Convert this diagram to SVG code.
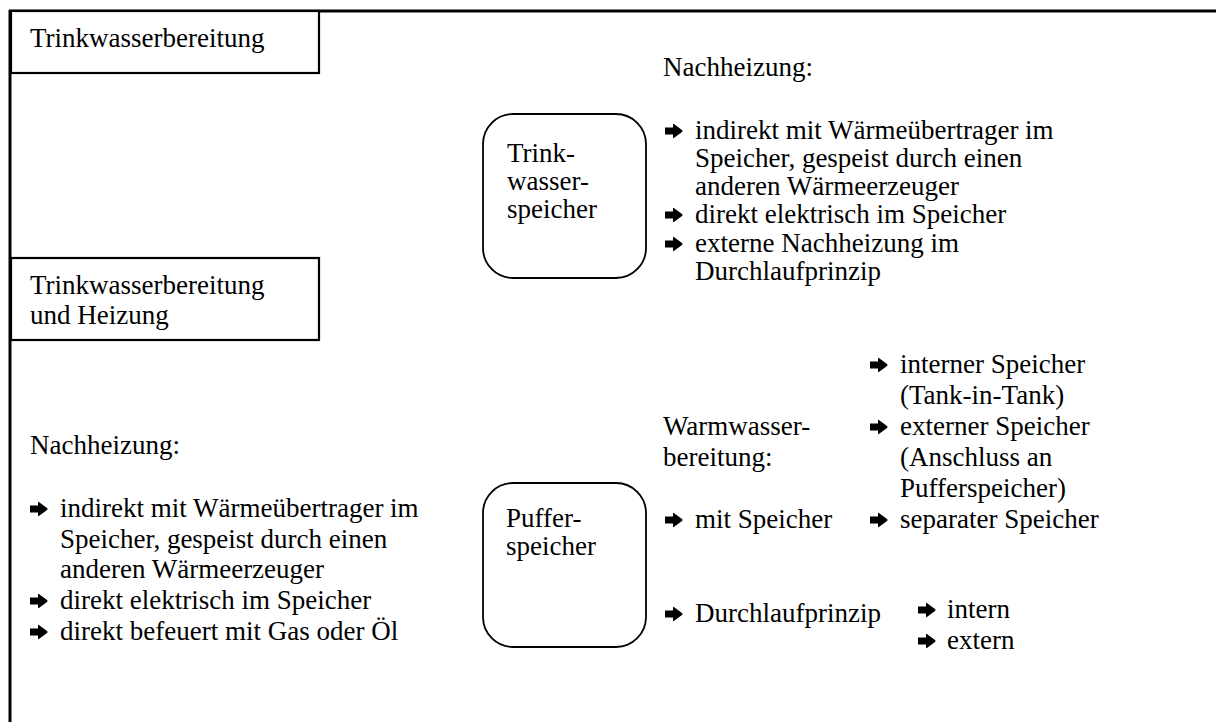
<svg xmlns="http://www.w3.org/2000/svg" xmlns:xlink="http://www.w3.org/1999/xlink" width="1216" height="722" viewBox="0 0 1216 722">
<style>
text{font-family:"Liberation Serif","Times New Roman","DejaVu Serif",serif;font-size:27px;fill:#000}
.frame{stroke:#000;stroke-width:3;fill:none}
.box{stroke:#000;stroke-width:2.2;fill:#fff}
.rbox{stroke:#000;stroke-width:1.8;fill:#fff}
</style>
<defs>
<path id="ar" d="M0,-3.6 L8,-3.6 L8,-6.6 Q8,-7.6 9.2,-6.8 L17,-1 Q18.2,0 17,1 L9.2,6.8 Q8,7.6 8,6.6 L8,3.6 L0,3.6 Z" fill="#000"/>
</defs>
<rect width="1216" height="722" fill="#fff"/>
<g id="frame">
<line class="frame" x1="9" y1="11" x2="1216" y2="11"/>
<line class="frame" x1="10" y1="10" x2="10" y2="722"/>
</g>
<g id="box-trinkwasserbereitung">
<rect class="box" x="11" y="11" width="308" height="62"/>
<text x="30" y="47">Trinkwasserbereitung</text>
</g>
<g id="box-trinkwasser-heizung">
<rect class="box" x="11" y="258" width="308" height="82"/>
<text x="30" y="294">Trinkwasserbereitung</text>
<text x="30" y="324">und Heizung</text>
</g>
<g id="node-trinkwasserspeicher">
<rect class="rbox" x="483" y="114" width="163" height="164" rx="30" ry="30"/>
<text x="507" y="162">Trink-</text>
<text x="507" y="190">wasser-</text>
<text x="507" y="218">speicher</text>
</g>
<g id="node-pufferspeicher">
<rect class="rbox" x="483" y="483" width="163" height="164" rx="30" ry="30"/>
<text x="506" y="527">Puffer-</text>
<text x="506" y="555">speicher</text>
</g>
<g id="list-top-right">
<text x="663" y="76">Nachheizung:</text>
<use xlink:href="#ar" x="665" y="131"/>
<text x="695" y="139">indirekt mit Wärmeübertrager im</text>
<text x="695" y="167">Speicher, gespeist durch einen</text>
<text x="695" y="195">anderen Wärmeerzeuger</text>
<use xlink:href="#ar" x="665" y="215"/>
<text x="695" y="223">direkt elektrisch im Speicher</text>
<use xlink:href="#ar" x="665" y="244"/>
<text x="695" y="252">externe Nachheizung im</text>
<text x="695" y="280">Durchlaufprinzip</text>
</g>
<g id="list-left">
<text x="30" y="454">Nachheizung:</text>
<use xlink:href="#ar" x="30" y="509"/>
<text x="60" y="517">indirekt mit Wärmeübertrager im</text>
<text x="60" y="548">Speicher, gespeist durch einen</text>
<text x="60" y="578">anderen Wärmeerzeuger</text>
<use xlink:href="#ar" x="30" y="601"/>
<text x="60" y="609">direkt elektrisch im Speicher</text>
<use xlink:href="#ar" x="30" y="632"/>
<text x="60" y="640">direkt befeuert mit Gas oder Öl</text>
</g>
<g id="list-warmwasser">
<text x="663" y="435">Warmwasser-</text>
<text x="663" y="466">bereitung:</text>
<use xlink:href="#ar" x="665" y="520"/>
<text x="695" y="528">mit Speicher</text>
<use xlink:href="#ar" x="665" y="614"/>
<text x="695" y="622">Durchlaufprinzip</text>
<use xlink:href="#ar" x="870" y="365"/>
<text x="900" y="373">interner Speicher</text>
<text x="900" y="404">(Tank-in-Tank)</text>
<use xlink:href="#ar" x="870" y="427"/>
<text x="900" y="435">externer Speicher</text>
<text x="900" y="466">(Anschluss an</text>
<text x="900" y="497">Pufferspeicher)</text>
<use xlink:href="#ar" x="870" y="520"/>
<text x="900" y="528">separater Speicher</text>
<use xlink:href="#ar" x="918" y="610"/>
<text x="947" y="618">intern</text>
<use xlink:href="#ar" x="918" y="641"/>
<text x="947" y="649">extern</text>
</g>
<g id="connectors"></g>
</svg>
